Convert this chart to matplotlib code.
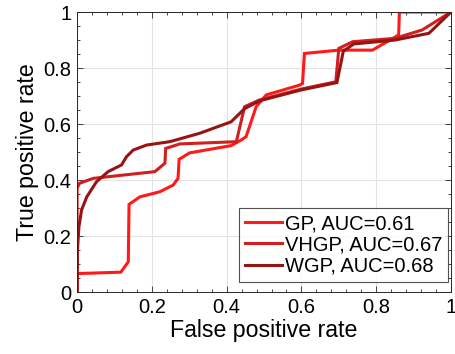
import matplotlib
matplotlib.use('Agg')
import matplotlib.pyplot as plt
from matplotlib.ticker import MultipleLocator

plt.rcParams['font.family'] = ['Liberation Sans', 'DejaVu Sans']

# ROC curves
gp_fpr = [0, 0, 0.117, 0.137, 0.139, 0.168, 0.221, 0.257, 0.27, 0.273, 0.301,
          0.412, 0.439, 0.452, 0.479, 0.506, 0.595, 0.603, 0.608, 0.70, 0.79,
          0.86, 0.862, 1.0]
gp_tpr = [0, 0.066, 0.071, 0.108, 0.313, 0.34, 0.358, 0.382, 0.406, 0.474, 0.497,
          0.523, 0.543, 0.555, 0.662, 0.704, 0.739, 0.745, 0.852, 0.864, 0.864,
          0.918, 1.0, 1.0]

vhgp_fpr = [0, 0, 0.006, 0.043, 0.208, 0.235, 0.237, 0.275, 0.426, 0.448, 0.488,
            0.60, 0.692, 0.70, 0.737, 0.85, 0.923, 1.0]
vhgp_tpr = [0, 0.37, 0.388, 0.406, 0.43, 0.46, 0.513, 0.529, 0.537, 0.662, 0.686,
            0.725, 0.751, 0.87, 0.894, 0.906, 0.936, 1.0]

wgp_fpr = [0, 0.001, 0.005, 0.012, 0.026, 0.052, 0.083, 0.119, 0.132, 0.15, 0.186,
           0.248, 0.328, 0.412, 0.448, 0.488, 0.60, 0.695, 0.712, 0.74, 0.85,
           0.941, 1.0]
wgp_tpr = [0, 0.15, 0.233, 0.293, 0.34, 0.394, 0.43, 0.454, 0.483, 0.507, 0.525,
           0.537, 0.567, 0.608, 0.655, 0.683, 0.722, 0.748, 0.86, 0.886, 0.9,
           0.924, 1.0]

labels = ['GP, AUC=0.61', 'VHGP, AUC=0.67', 'WGP, AUC=0.68']
colors = ['#FF1919', '#D21E1E', '#961414']
ticks = [0, 0.2, 0.4, 0.6, 0.8, 1]
tick_labels = ['0', '0.2', '0.4', '0.6', '0.8', '1']

fig = plt.figure(figsize=(4.56, 3.54), dpi=100)
ax = fig.add_axes([0.169, 0.175, 0.820, 0.791])

for x, y, lab, c in zip([gp_fpr, vhgp_fpr, wgp_fpr], [gp_tpr, vhgp_tpr, wgp_tpr],
                        labels, colors):
    ax.plot(x, y, color=c, lw=2.2, label=lab, solid_joinstyle='miter')

ax.set_xticks(ticks, tick_labels)
ax.set_yticks(ticks, tick_labels)
ax.xaxis.set_minor_locator(MultipleLocator(0.04))
ax.yaxis.set_minor_locator(MultipleLocator(0.05))
ax.set_xlim(0, 1)
ax.set_ylim(0, 1)
ax.tick_params(which='both', direction='in', top=True, right=True,
               labelsize=14.5, color='#262626', pad=4)
ax.tick_params(which='major', length=4, width=0.6)
ax.tick_params(which='minor', length=2.5, width=0.6)
ax.grid(True, which='major', color='#e3e3e3', lw=0.8)
ax.set_axisbelow(True)
for s in ax.spines.values():
    s.set_color('#262626')
    s.set_linewidth(0.7)

ax.set_xlabel('False positive rate', fontsize=16.7, labelpad=2)
ax.set_ylabel('True positive rate', fontsize=16.7, labelpad=3)

leg = ax.legend(loc='lower right', bbox_to_anchor=(0.992, 0.036), fontsize=14.5,
                frameon=True, fancybox=False, edgecolor='#262626',
                handlelength=1.8, handletextpad=0.15, borderpad=0.3,
                labelspacing=0.12, borderaxespad=0)
leg.get_frame().set_linewidth(0.8)

fig.savefig('out.png', dpi=100)
